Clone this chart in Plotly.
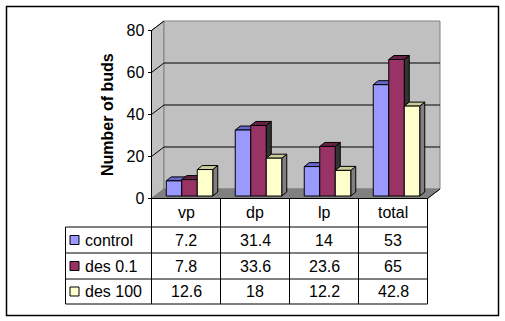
import plotly.graph_objects as go

categories = ["vp", "dp", "lp", "total"]
tick_values = [0, 20, 40, 60, 80]
control = [7.2, 31.4, 14, 53]
des_01 = [7.8, 33.6, 23.6, 65]
des_100 = [12.6, 18, 12.2, 42.8]
series_names = ["control", "des 0.1", "des 100"]
series_values = [control, des_01, des_100]

# front, top, side colours per series
front = ["#9999FF", "#993366", "#FFFFCC"]
top = ["#6666CC", "#662244", "#CCCC99"]
side = ["#333333", "#333333", "#808080"]

W, H = 505, 321
X0, Y0 = 151.5, 198.5       # pixel of x=0, y=0
PX_X = 69.0                 # pixels per category
PX_Y = 2.1                  # pixels per bud


def dx(px):
    return px / PX_X


def dy(px):
    return px / PX_Y


# depth of the chart box and of the bars, in axis units
WALL_X, WALL_Y = dx(12.5), dy(9.5)
BAR_W = dx(15.5)
BAR_X, BAR_Y = dx(3.5), dy(2.5)
SIDE_X, SIDE_Y = dx(5), dy(4)

fig = go.Figure()

shapes = []


def poly(points, fill, line=None, width=1):
    path = "M " + " L ".join(f"{x},{y}" for x, y in points) + " Z"
    shapes.append(dict(type="path", path=path, xref="x", yref="y", layer="below",
                       fillcolor=fill, line=dict(color=line or fill, width=width)))


def seg(x1, y1, x2, y2, color="black", width=1):
    shapes.append(dict(type="line", x0=x1, y0=y1, x1=x2, y1=y2, xref="x", yref="y",
                       layer="below", line=dict(color=color, width=width)))


# chart box
poly([(0, 0), (0, 80), (WALL_X, 80 + WALL_Y), (WALL_X, WALL_Y)], "#C0C0C0", "#808080")
poly([(WALL_X, WALL_Y), (WALL_X, 80 + WALL_Y), (4 + WALL_X, 80 + WALL_Y), (4 + WALL_X, WALL_Y)],
     "#C0C0C0", "#808080")
poly([(0, 0), (WALL_X, WALL_Y), (4 + WALL_X, WALL_Y), (4, 0)], "#808080")
for v in tick_values[1:-1]:
    seg(0, v, WALL_X, v + WALL_Y)
    seg(WALL_X, v + WALL_Y, 4 + WALL_X, v + WALL_Y)
seg(0, 80, WALL_X, 80 + WALL_Y)
seg(0, 0, 0, 80)
seg(0, 0, WALL_X, WALL_Y, "#808080")
seg(4, 0, 4 + WALL_X, WALL_Y)

# bar sides and tops, left to right
for c in range(len(categories)):
    for s in range(3):
        v = series_values[s][c]
        left = c + 0.5 + BAR_X + (s - 1.5) * BAR_W
        right = left + BAR_W
        fig.add_trace(go.Scatter(
            x=[right, right + SIDE_X, right + SIDE_X, right, right],
            y=[BAR_Y, BAR_Y + SIDE_Y, BAR_Y + SIDE_Y + v, BAR_Y + v, BAR_Y],
            mode="lines", fill="toself", fillcolor=side[s],
            line=dict(color="black", width=1), showlegend=False, hoverinfo="skip", zorder=1))
        fig.add_trace(go.Scatter(
            x=[left, left + SIDE_X, right + SIDE_X, right, left],
            y=[BAR_Y + v, BAR_Y + SIDE_Y + v, BAR_Y + SIDE_Y + v, BAR_Y + v, BAR_Y + v],
            mode="lines", fill="toself", fillcolor=top[s],
            line=dict(color="black", width=1), showlegend=False, hoverinfo="skip", zorder=1))

# bar fronts
for s in range(3):
    fig.add_trace(go.Bar(
        x=[c + 0.5 + BAR_X + (s - 1) * BAR_W for c in range(len(categories))],
        y=series_values[s], base=BAR_Y, width=BAR_W, name=series_names[s],
        marker=dict(color=front[s], line=dict(color="black", width=1)),
        showlegend=False, zorder=2))

# data table
TABLE_LEFT = dx(65.5 - X0)
rows = [0, dy(-28.5), dy(-54.5), dy(-80.5), dy(-105.5)]
for r in rows[1:]:
    seg(TABLE_LEFT, r, 4, r)
seg(0, rows[0], 4, rows[0])
seg(TABLE_LEFT, rows[1], TABLE_LEFT, rows[4])
for c in range(5):
    seg(c, rows[0], c, rows[4])

annotations = []


def label(x, y, text, xanchor="center"):
    annotations.append(dict(x=x, y=y, text=text, xref="x", yref="y", showarrow=False,
                            xanchor=xanchor, yanchor="middle",
                            font=dict(family="Liberation Sans", size=16, color="black")))


for c, name in enumerate(categories):
    label(c + 0.5, (rows[0] + rows[1]) / 2, name)
for s in range(3):
    y = (rows[s + 1] + rows[s + 2]) / 2
    label(dx(83 - X0), y, series_names[s], "left")
    for c in range(len(categories)):
        label(c + 0.5, y, str(series_values[s][c]))

# legend keys in the table
fig.add_trace(go.Scatter(
    x=[dx(74.5 - X0)] * 3,
    y=[(rows[s + 1] + rows[s + 2]) / 2 for s in range(3)],
    mode="markers",
    marker=dict(symbol="square", size=9, color=front, line=dict(color="black", width=1)),
    showlegend=False, hoverinfo="skip", zorder=3))

annotations.append(dict(x=108 / W, y=1 - 115 / H, xref="paper", yref="paper",
                        xanchor="center", yanchor="middle",
                        text="<b>Number of buds</b>", showarrow=False, textangle=-90,
                        font=dict(family="Liberation Sans", size=16, color="black")))

# outer frame
shapes.append(dict(type="rect", xref="paper", yref="paper", x0=6.5 / W, x1=498.5 / W,
                   y0=1 - 315.5 / H, y1=1 - 6.5 / H, line=dict(color="black", width=1.5),
                   layer="below"))

fig.update_layout(
    width=W, height=H, margin=dict(l=0, r=0, t=0, b=0, autoexpand=False),
    paper_bgcolor="white", plot_bgcolor="white", showlegend=False,
    barmode="overlay", shapes=shapes, annotations=annotations,
    xaxis=dict(range=[-X0 / PX_X, (W - X0) / PX_X], visible=False, fixedrange=True),
    yaxis=dict(range=[(Y0 - H) / PX_Y, Y0 / PX_Y], tickvals=tick_values, showgrid=False,
               zeroline=False, showline=False, ticks="outside", ticklen=4, tickcolor="black",
               anchor="free", position=X0 / W, fixedrange=True,
               tickfont=dict(family="Liberation Sans", size=16, color="black")),
)

fig.write_html("out.html", config={"displayModeBar": False},
               post_script="document.body.style.margin = '0';")
